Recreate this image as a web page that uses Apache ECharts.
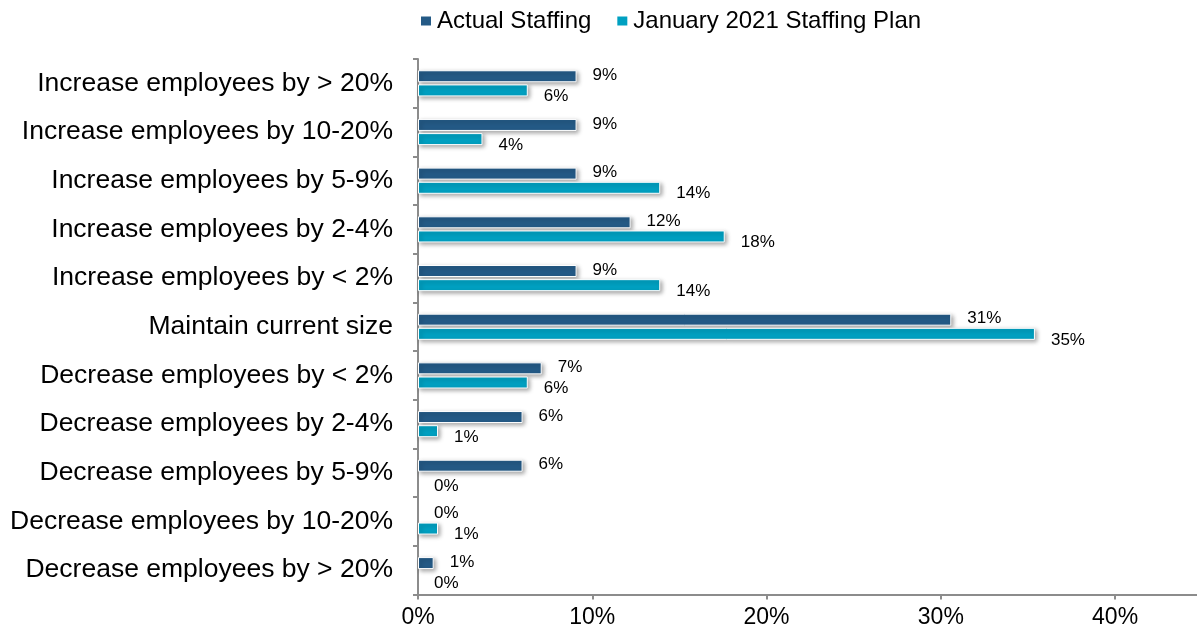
<!DOCTYPE html>
<html>
<head>
<meta charset="utf-8">
<script src="https://cdn.jsdelivr.net/npm/echarts@6/dist/echarts.min.js"></script>
<style>html,body{margin:0;padding:0;background:#fff}#c{width:1197px;height:635px}</style>
</head>
<body>
<div id="c"></div>
<script>
var categories = [
  'Increase employees by > 20%',
  'Increase employees by 10-20%',
  'Increase employees by 5-9%',
  'Increase employees by 2-4%',
  'Increase employees by < 2%',
  'Maintain current size',
  'Decrease employees by < 2%',
  'Decrease employees by 2-4%',
  'Decrease employees by 5-9%',
  'Decrease employees by 10-20%',
  'Decrease employees by > 20%'
];
var actualStaffing = [9.1, 9.1, 9.1, 12.2, 9.1, 30.6, 7.1, 6.0, 6.0, 0, 0.9];
var staffingPlan = [6.3, 3.7, 13.9, 17.6, 13.9, 35.4, 6.3, 1.15, 0, 1.15, 0];
var xTicks = [0, 10, 20, 30, 40];
var seriesNames = ['Actual Staffing', 'January 2021 Staffing Plan'];

var FONT = '"Liberation Sans", Arial, sans-serif';
var chart = echarts.init(document.getElementById('c'));
function barSeries(name, values, color, offsetY) {
  var data = values.map(function (v) {
    if (v === 0) {
      return { value: v, itemStyle: { borderWidth: 0, shadowBlur: 0, shadowOffsetX: 0, shadowOffsetY: 0, shadowColor: 'transparent' } };
    }
    return v;
  });
  return {
    name: name,
    type: 'bar',
    data: data,
    barWidth: 12,
    barGap: '18%',
    itemStyle: {
      color: color,
      borderColor: '#ffffff',
      borderWidth: 1,
      shadowColor: 'rgba(0,0,0,0.35)',
      shadowBlur: 4,
      shadowOffsetX: 2,
      shadowOffsetY: 2
    },
    label: {
      show: true,
      position: 'right',
      distance: 16,
      offset: [0, offsetY],
      color: '#000',
      fontFamily: FONT,
      fontSize: 17,
      formatter: function (p) { return Math.round(p.value) + '%'; }
    }
  };
}
chart.setOption({
  animation: false,
  backgroundColor: '#fff',
  legend: {
    left: 414,
    top: 4,
    itemWidth: 12,
    itemHeight: 11,
    itemGap: 24,
    icon: 'rect',
    textStyle: { fontFamily: FONT, fontSize: 24, color: '#000' },
    data: seriesNames
  },
  grid: { left: 418, right: 0, top: 59, bottom: 40.5, containLabel: false },
  xAxis: {
    type: 'value',
    min: 0,
    max: 44.7,
    interval: 10,
    axisLine: { show: true, lineStyle: { color: '#8c8c8c', width: 2 } },
    axisTick: { show: true, length: 5, lineStyle: { color: '#8c8c8c', width: 2 } },
    splitLine: { show: false },
    axisLabel: {
      fontFamily: FONT, fontSize: 23, color: '#000', margin: 12,
      showMaxLabel: false,
      formatter: function (v) { return xTicks.indexOf(v) >= 0 ? v + '%' : ''; }
    }
  },
  yAxis: {
    type: 'category',
    inverse: true,
    data: categories,
    axisLine: { show: true, lineStyle: { color: '#8c8c8c', width: 2 } },
    axisTick: { show: true, length: 5, lineStyle: { color: '#8c8c8c', width: 2 } },
    axisLabel: { fontFamily: FONT, fontSize: 26.5, color: '#000', margin: 25 }
  },
  series: [
    barSeries(seriesNames[0], actualStaffing, '#245A86', -1),
    barSeries(seriesNames[1], staffingPlan, '#00A0C1', 6)
  ]
});
</script>
</body>
</html>
